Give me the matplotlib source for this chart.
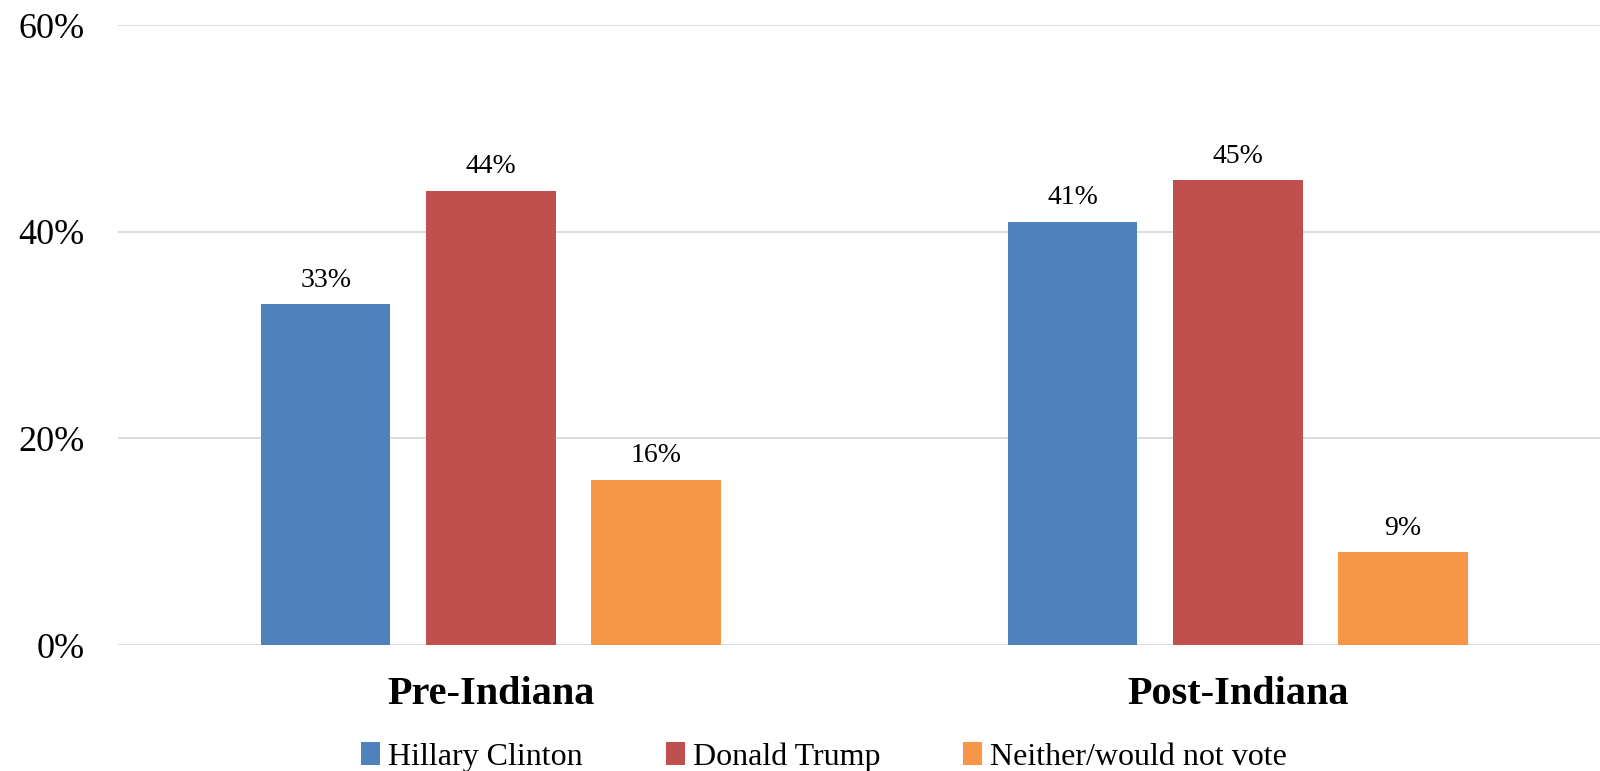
import matplotlib.pyplot as plt
import numpy as np

plt.rcParams['font.family'] = ['Liberation Serif', 'DejaVu Serif']

groups = ['Pre-Indiana', 'Post-Indiana']
series = ['Hillary Clinton', 'Donald Trump', 'Neither/would not vote']
clinton = [33, 41]
trump = [44, 45]
neither = [16, 9]
colors = ['#4F81BD', '#C0504D', '#F79646']

fig = plt.figure(figsize=(16, 7.71), dpi=100)
ax = fig.add_axes([0.0738, 0.1634, 0.9262, 0.8036])

x = np.arange(len(groups))
width = 0.1735
step = 0.2213
for i, (vals, name) in enumerate(zip([clinton, trump, neither], series)):
    pos = x + (i - 1) * step
    bars = ax.bar(pos, vals, width, color=colors[i], label=name, zorder=2)
    for b, v in zip(bars, vals):
        ax.text(b.get_x() + b.get_width() / 2, v + 1.1, f'{v}%',
                ha='center', va='bottom', fontsize=20)

ax.set_xlim(-0.4993, 1.485)
ax.set_ylim(0, 60)
ax.set_yticks([0, 20, 40, 60])
ax.set_yticklabels(['0%', '20%', '40%', '60%'], fontsize=26)
ax.set_xticks(x)
ax.set_xticklabels(groups, fontsize=29, fontweight='bold')
ax.tick_params(axis='y', length=0, pad=24)
ax.tick_params(axis='x', length=0, pad=22)
ax.grid(axis='y', color='#d9d9d9', linewidth=1.3, zorder=0)
for s in ax.spines.values():
    s.set_visible(False)

fig.legend(loc='lower center', bbox_to_anchor=(0.515, -0.038), ncol=3,
           frameon=False, fontsize=23, handlelength=0.6, handleheight=0.7,
           handletextpad=0.25, columnspacing=2.6)

fig.savefig('out.png', dpi=100)
